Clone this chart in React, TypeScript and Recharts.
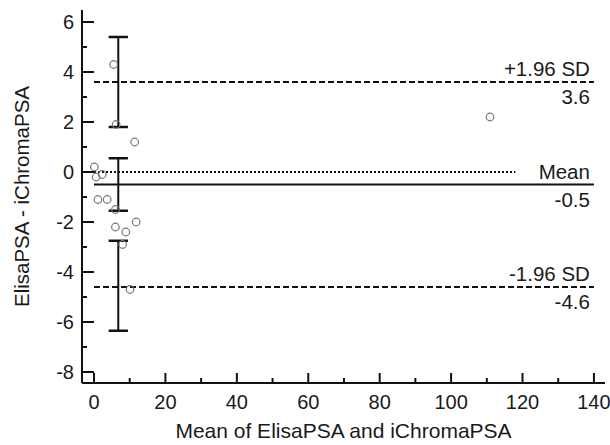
import React from 'react';
import { ComposedChart, Scatter, XAxis, YAxis, ReferenceLine, Label } from 'recharts';

// Mean of the two methods (x) and their difference (y)
const meanValues = [5.5, 6.2, 11.4, 0.1, 0.6, 2.3, 1.1, 3.7, 6.0, 6.0, 8.9, 11.8, 8.0, 10.1, 110.9];
const diffValues = [4.3, 1.9, 1.2, 0.2, -0.2, -0.1, -1.1, -1.1, -1.5, -2.2, -2.4, -2.0, -2.9, -4.7, 2.2];

// Limits of agreement
const limitNames = ['+1.96 SD', 'Mean', '-1.96 SD'];
const limitValues = [3.6, -0.5, -4.6];
const limitStart = 0;
const limitEnd = 140;

// Confidence intervals of the limits
const ciPosition = 6.8;
const ciLow = [1.8, -1.55, -6.35];
const ciHigh = [5.4, 0.55, -2.75];

// Line of equality (zero difference)
const zeroLineEnd = 118;

// Axes
const xTicks = [0, 10, 20, 30, 40, 50, 60, 70, 80, 90, 100, 110, 120, 130, 140];
const xMajorTicks = [0, 20, 40, 60, 80, 100, 120, 140];
const yTicks = [-8, -7, -6, -5, -4, -3, -2, -1, 0, 1, 2, 3, 4, 5, 6];
const yMajorTicks = [-8, -6, -4, -2, 0, 2, 4, 6];
const xDomain: [number, number] = [-3.36, 143.1];
const yDomain: [number, number] = [-8.44, 6.48];
const xTitle = 'Mean of ElisaPSA and iChromaPSA';
const yTitle = 'ElisaPSA - iChromaPSA';

const FONT = '"Liberation Sans", Arial, Helvetica, sans-serif';
const INK = '#111';
const TEXT = '#1a1a1a';

const XTick = (props: any) => {
  const { x, y, payload } = props;
  const v = payload.value;
  const major = xMajorTicks.includes(v);
  return (
    <g>
      <line x1={x} x2={x} y1={y} y2={y - (major ? 10 : 5)} stroke={INK} strokeWidth={2} />
      {major && (
        <text x={x} y={y + 26} textAnchor="middle" fontSize={20} fill={TEXT} fontFamily={FONT}>
          {v}
        </text>
      )}
    </g>
  );
};

const YTick = (props: any) => {
  const { x, y, payload } = props;
  const v = payload.value;
  const major = yMajorTicks.includes(v);
  return (
    <g>
      <line x1={x} x2={x + (major ? 12 : 5)} y1={y} y2={y} stroke={INK} strokeWidth={2} />
      {major && (
        <text x={x - 8} y={y + 7} textAnchor="end" fontSize={20} fill={TEXT} fontFamily={FONT}>
          {v}
        </text>
      )}
    </g>
  );
};

const makeLimitLabel = (name: string, valueText: string) => (props: any) => {
  const vb = props.viewBox || {};
  const xr = (vb.x ?? 0) + (vb.width ?? 0) - 4;
  const y = vb.y ?? 0;
  return (
    <g>
      <text x={xr} y={y - 6} textAnchor="end" fontSize={20.5} fill={TEXT} fontFamily={FONT}>
        {name}
      </text>
      <text x={xr} y={y + 22} textAnchor="end" fontSize={20.5} fill={TEXT} fontFamily={FONT}>
        {valueText}
      </text>
    </g>
  );
};

const PointShape = (props: any) => (
  <circle cx={props.cx} cy={props.cy} r={3.8} fill="none" stroke="#777" strokeWidth={1.2} />
);

const limitDash = ['6 3', undefined, '6 3'];

export default function App() {
  const data = meanValues.map((x, i) => ({ x, y: diffValues[i] }));
  return (
    <div style={{ position: 'absolute', left: 0, top: 0, width: 610, height: 445, background: '#fff' }}>
      <ComposedChart width={610} height={445} margin={{ top: 10, right: 5, left: 22, bottom: 12 }}>
        <XAxis
          type="number"
          dataKey="x"
          domain={xDomain}
          allowDataOverflow
          ticks={xTicks}
          interval={0}
          tickSize={0}
          tickMargin={0}
          tickLine={false}
          tick={<XTick />}
          axisLine={{ stroke: INK, strokeWidth: 2 }}
          height={50}
        >
          <Label
            content={(p: any) => {
              const vb = p.viewBox || {};
              return (
                <text
                  x={vb.x + vb.width / 2}
                  y={vb.y + 55}
                  textAnchor="middle"
                  fontSize={21}
                  fill={TEXT}
                  fontFamily={FONT}
                >
                  {xTitle}
                </text>
              );
            }}
          />
        </XAxis>
        <YAxis
          type="number"
          dataKey="y"
          domain={yDomain}
          allowDataOverflow
          ticks={yTicks}
          interval={0}
          tickSize={0}
          tickMargin={0}
          tickLine={false}
          tick={<YTick />}
          axisLine={{ stroke: INK, strokeWidth: 2 }}
          width={60}
        >
          <Label
            content={(p: any) => {
              const vb = p.viewBox || {};
              const cx = vb.x + 7;
              const cy = vb.y + vb.height / 2;
              return (
                <text
                  x={cx}
                  y={cy}
                  transform={`rotate(-90 ${cx} ${cy})`}
                  textAnchor="middle"
                  fontSize={20.5}
                  fill={TEXT}
                  fontFamily={FONT}
                >
                  {yTitle}
                </text>
              );
            }}
          />
        </YAxis>

        <ReferenceLine
          segment={[
            { x: xDomain[0], y: 0 },
            { x: zeroLineEnd, y: 0 },
          ]}
          stroke={INK}
          strokeWidth={2}
          strokeDasharray="2 2"
          ifOverflow="visible"
        />

        {limitValues.map((v, i) => (
          <ReferenceLine
            key={'lim' + i}
            segment={[
              { x: limitStart, y: v },
              { x: limitEnd, y: v },
            ]}
            stroke={INK}
            strokeWidth={2}
            strokeDasharray={limitDash[i]}
            ifOverflow="visible"
            label={makeLimitLabel(limitNames[i], v.toFixed(1))}
          />
        ))}

        {ciLow.map((lo, i) => (
          <ReferenceLine
            key={'ci' + i}
            segment={[
              { x: ciPosition, y: lo },
              { x: ciPosition, y: ciHigh[i] },
            ]}
            stroke={INK}
            strokeWidth={2}
            ifOverflow="visible"
          />
        ))}
        {ciLow.map((lo, i) => (
          <ReferenceLine
            key={'cil' + i}
            segment={[
              { x: ciPosition - 2.7, y: lo },
              { x: ciPosition + 2.7, y: lo },
            ]}
            stroke={INK}
            strokeWidth={2.5}
            ifOverflow="visible"
          />
        ))}
        {ciHigh.map((hi, i) => (
          <ReferenceLine
            key={'cih' + i}
            segment={[
              { x: ciPosition - 2.7, y: hi },
              { x: ciPosition + 2.7, y: hi },
            ]}
            stroke={INK}
            strokeWidth={2.5}
            ifOverflow="visible"
          />
        ))}

        <Scatter data={data} dataKey="y" shape={<PointShape />} isAnimationActive={false} />
      </ComposedChart>
    </div>
  );
}
